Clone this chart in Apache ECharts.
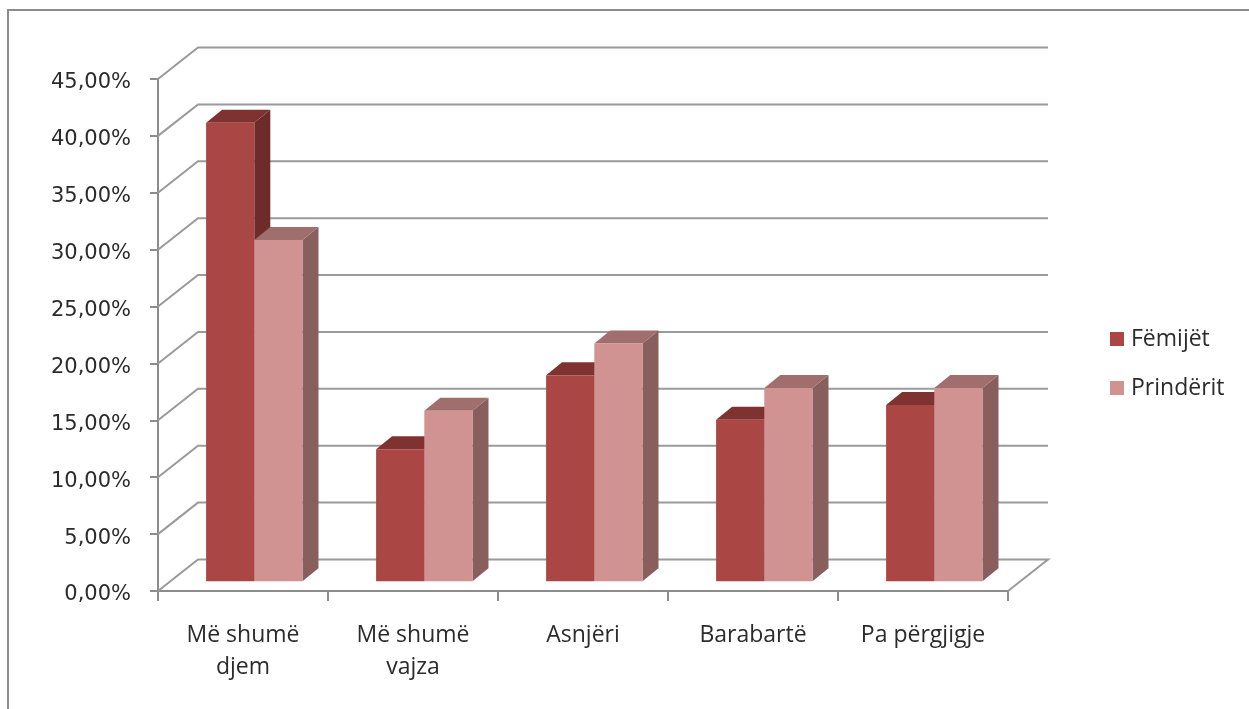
<!DOCTYPE html>
<html>
<head>
<meta charset="utf-8">
<style>html,body{margin:0;padding:0;background:#fff}#c{width:1249px;height:709px;filter:blur(0.45px)}</style>
<script src="https://cdn.jsdelivr.net/npm/echarts@6/dist/echarts.min.js"></script>
</head>
<body>
<div id="c"></div>
<script>
const categories = ['Më shumë\ndjem', 'Më shumë\nvajza', 'Asnjëri', 'Barabartë', 'Pa përgjigje'];
const femijet = [40.3, 11.6, 18.1, 14.2, 15.5];
const prinderit = [30.0, 15.0, 20.9, 17.0, 17.0];
const gridValues = [0, 5, 10, 15, 20, 25, 30, 35, 40, 45];

const WALL_DX = 40, WALL_DY = -31.5;
const GRID_COLOR = '#9a9a9a', AXIS_COLOR = '#8c8c8c', TEXT = '#2b2b2b';
const FONT = '"Open Sans", sans-serif';
const AXIS_FONT = '"DejaVu Sans", sans-serif';

function gridRender(params, api) {
  const cs = params.coordSys;
  const y = api.coord([0, api.value(0)])[1];
  const isFloor = api.value(0) === 0;
  const pts = [[cs.x, y], [cs.x + WALL_DX, y + WALL_DY], [cs.x + cs.width + WALL_DX, y + WALL_DY]];
  if (isFloor) pts.push([cs.x + cs.width, y]);
  return { type: 'polyline', shape: { points: pts }, style: { stroke: GRID_COLOR, lineWidth: 2, fill: null } };
}

function barRender(side, front, topC, sideC) {
  return function (params, api) {
    const band = api.size([1, 0])[0];
    const barW = band * 0.2835;
    const zero = api.coord([api.value(0), 0]);
    const top = api.coord([api.value(0), api.value(1)]);
    const shiftX = 11.3, shiftY = -9.7, dx = 16, dy = -13;
    const x0 = zero[0] + shiftX + (side === 0 ? -barW : 0);
    const x1 = x0 + barW;
    const yB = zero[1] + shiftY, yT = top[1] + shiftY;
    return {
      type: 'group',
      children: [
        { type: 'polygon', shape: { points: [[x1, yT], [x1 + dx, yT + dy], [x1 + dx, yB + dy], [x1, yB]] }, style: { fill: sideC } },
        { type: 'polygon', shape: { points: [[x0, yT], [x0 + dx, yT + dy], [x1 + dx, yT + dy], [x1, yT]] }, style: { fill: topC } },
        { type: 'rect', shape: { x: x0, y: yT, width: barW, height: yB - yT }, style: { fill: front } }
      ]
    };
  };
}

const chart = echarts.init(document.getElementById('c'));
chart.setOption({
  animation: false,
  backgroundColor: '#fff',
  grid: { left: 158, right: 241, top: 79, bottom: 118 },
  graphic: [{
    type: 'polyline', silent: true,
    shape: { points: [[8, 709], [8, 10], [1249, 10]] },
    style: { stroke: AXIS_COLOR, lineWidth: 2, fill: null }
  }],
  legend: {
    orient: 'vertical', left: 1105, top: 322, itemWidth: 14, itemHeight: 14, itemGap: 25,
    icon: 'rect', data: ['Fëmijët', 'Prindërit'],
    textStyle: { fontFamily: FONT, fontSize: 23, color: TEXT, padding: [0, 0, 0, 2], lineHeight: 24 }
  },
  xAxis: {
    type: 'category', data: categories,
    axisLine: { lineStyle: { color: AXIS_COLOR, width: 2 } },
    axisTick: { show: true, alignWithLabel: false, interval: 0, length: 10, lineStyle: { color: AXIS_COLOR, width: 2 } },
    axisLabel: { fontFamily: FONT, fontSize: 23, color: TEXT, margin: 28, lineHeight: 32, interval: 0 }
  },
  yAxis: {
    type: 'value', min: 0, max: 45, interval: 5,
    splitLine: { show: false },
    axisLine: { show: true, lineStyle: { color: AXIS_COLOR, width: 2 } },
    axisTick: { show: true, length: 8, lineStyle: { color: AXIS_COLOR, width: 2 } },
    axisLabel: { fontFamily: AXIS_FONT, fontSize: 21, color: TEXT, margin: 27, verticalAlign: 'top', lineHeight: 8,
      formatter: v => v.toFixed(2).replace('.', ',') + '%' }
  },
  series: [
    { type: 'custom', name: 'walls', silent: true, clip: false, z: 1,
      renderItem: gridRender, encode: { y: 0 }, data: gridValues.map(v => [v]) },
    { type: 'custom', name: 'Fëmijët', clip: false, z: 2, itemStyle: { color: '#AA4643' },
      renderItem: barRender(0, '#AA4643', '#7f3331', '#6d2b29'), encode: { x: 0, y: 1 },
      data: femijet.map((v, i) => [i, v]) },
    { type: 'custom', name: 'Prindërit', clip: false, z: 3, itemStyle: { color: '#D09392' },
      renderItem: barRender(1, '#D09392', '#a06e6d', '#895f5e'), encode: { x: 0, y: 1 },
      data: prinderit.map((v, i) => [i, v]) }
  ]
});
</script>
</body>
</html>
